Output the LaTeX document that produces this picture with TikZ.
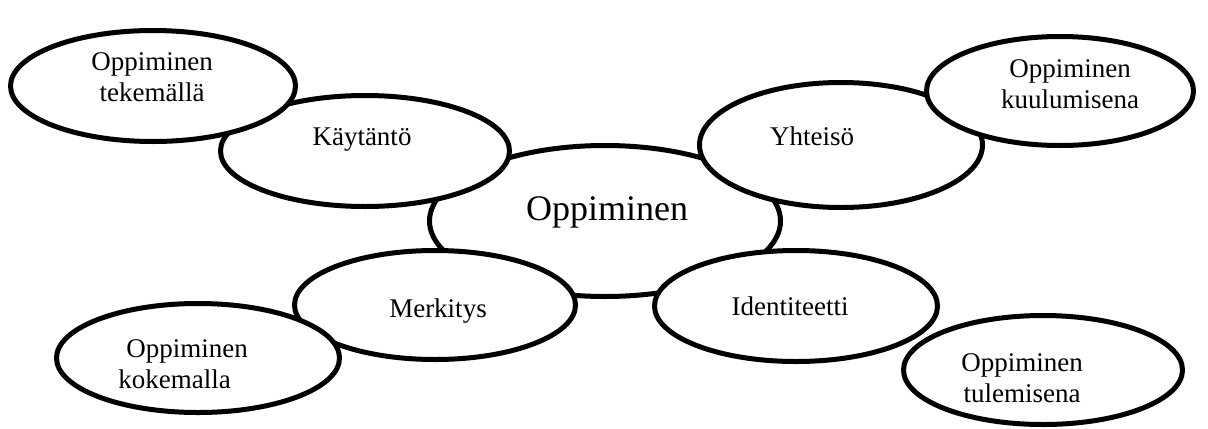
\documentclass[tikz,border=0pt]{standalone}
\usepackage{fontspec}
\setmainfont{Liberation Serif}
\usetikzlibrary{shapes.geometric}
\begin{document}
\begin{tikzpicture}[x=0.5pt,y=-0.5pt,
  bub/.style 2 args={ellipse, draw=black, fill=white, line width=2.5pt, inner sep=0pt, minimum width=#1*0.5pt, minimum height=#2*0.5pt},
  lbl/.style={inner sep=0pt, anchor=base, font=\fontsize{13.5}{15.5}\selectfont},
  lblw/.style={inner sep=0pt, anchor=base west, font=\fontsize{13.5}{15.5}\selectfont},
  bigl/.style={inner sep=0pt, anchor=base, font=\fontsize{18}{21}\selectfont}]
\useasboundingbox (0,0) rectangle (1208,428);
% centre
\node[bub={351}{151}] (C) at (605,221) {};
% middle ring
\node[bub={289}{111}] (K) at (365,151) {};
\node[bub={283}{125}] (Y) at (841,145) {};
\node[bub={281}{109}] (M) at (435,305) {};
\node[bub={283}{111}] (I) at (796,306) {};
% outer ring
\node[bub={285}{111}] (T) at (153,86) {};
\node[bub={267}{109}] (KU) at (1060,91) {};
\node[bub={283}{109}] (KO) at (198,358) {};
\node[bub={279}{109}] (TU) at (1043,370) {};
% texts
\node[bigl] (tC) at (607,220) {Oppiminen};
\node[lbl] (tK) at (362,145) {Käytäntö};
\node[lbl] (tY) at (812,145) {Yhteisö};
\node[lbl] (tM) at (438,317) {Merkitys};
\node[lbl] (tI) at (790,315) {Identiteetti};
\node[lbl] (tT) at (152,70) {\begin{tabular}[t]{@{}c@{}}Oppiminen\\tekemällä\end{tabular}};
\node[lbl] (tKU) at (1070,77) {\begin{tabular}[t]{@{}c@{}}Oppiminen\\kuulumisena\end{tabular}};
\node[lblw] (tKO) at (118,357) {\begin{tabular}[t]{@{}l@{}}\hspace*{4pt}Oppiminen\\kokemalla\end{tabular}};
\node[lbl] (tTU) at (1022,371) {\begin{tabular}[t]{@{}c@{}}Oppiminen\\tulemisena\end{tabular}};
\end{tikzpicture}
\end{document}
